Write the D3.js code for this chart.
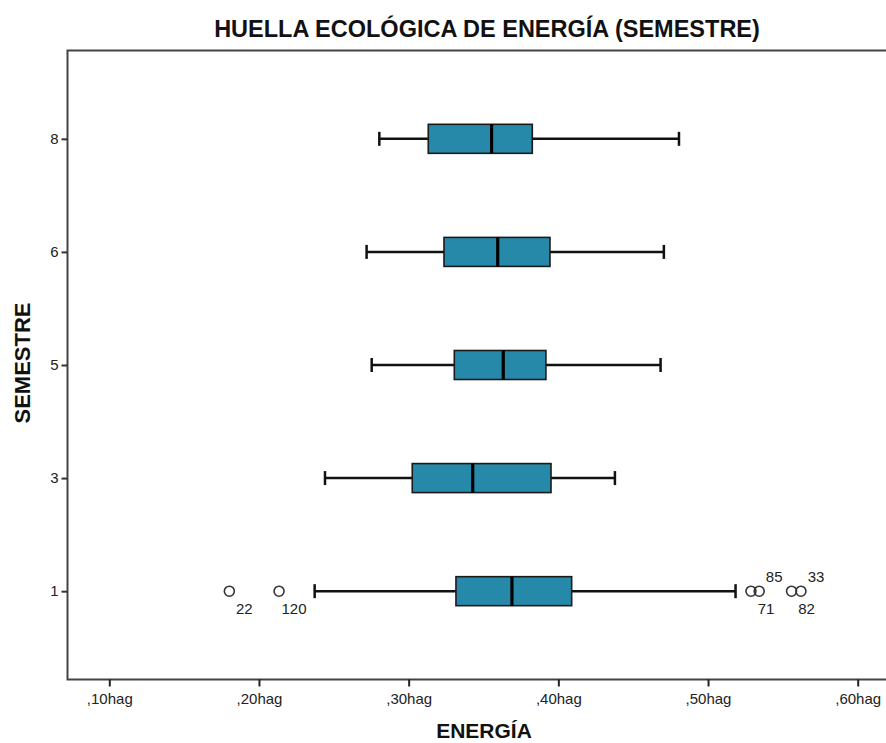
<!DOCTYPE html>
<html>
<head>
<meta charset="utf-8">
<script src="https://cdn.jsdelivr.net/npm/d3@7"></script>
<style>
  body { margin: 0; background: #fff; }
  svg { display: block; font-family: "Liberation Sans", Arial, sans-serif; }
</style>
</head>
<body>
<svg id="chart" width="886" height="743"></svg>
<script>
// ---- data ----
const semesters = ["8", "6", "5", "3", "1"];
const whiskerLow  = [0.2804, 0.2719, 0.2753, 0.2441, 0.2372];
const q1          = [0.3131, 0.3236, 0.3305, 0.3024, 0.3316];
const median      = [0.3554, 0.3595, 0.3632, 0.3428, 0.3690];
const q3          = [0.3826, 0.3944, 0.3917, 0.3951, 0.4089];
const whiskerHigh = [0.4806, 0.4705, 0.4683, 0.4378, 0.5184];
const outlierSemester = ["1", "1", "1", "1", "1", "1"];
const outlierValues   = [0.1802, 0.2134, 0.5287, 0.5342, 0.5558, 0.5621];
const outlierIds      = ["22", "120", "71", "85", "82", "33"];
const outlierLabelPos = ["below", "below", "below", "above", "below", "above"];
const xTicks = [0.10, 0.20, 0.30, 0.40, 0.50, 0.60];
const xTickLabels = [",10hag", ",20hag", ",30hag", ",40hag", ",50hag", ",60hag"];

const chartTitle = "HUELLA ECOLÓGICA DE ENERGÍA (SEMESTRE)";
const xTitle = "ENERGÍA";
const yTitle = "SEMESTRE";

(function () {
// ---- layout ----
const svg = d3.select("#chart");
const pLeft = 67.5, pTop = 50.5, pBottom = 679.5, pRight = 892;

const x = d3.scaleLinear().domain([0.10, 0.60]).range([109.3, 857.7]);
const y = d3.scalePoint().domain(semesters).range([pTop, pBottom]).padding(0.781);

const boxes = semesters.map((s, i) => ({
  s, lo: whiskerLow[i], q1: q1[i], med: median[i], q3: q3[i], hi: whiskerHigh[i]
}));
const outliers = outlierValues.map((v, i) => ({
  s: outlierSemester[i], v, id: outlierIds[i], pos: outlierLabelPos[i]
}));

// frame
svg.append("rect")
  .attr("x", pLeft).attr("y", pTop)
  .attr("width", pRight - pLeft).attr("height", pBottom - pTop)
  .attr("fill", "none").attr("stroke", "#444").attr("stroke-width", 2);

// title
svg.append("text")
  .attr("x", 487).attr("y", 37)
  .attr("text-anchor", "middle")
  .attr("font-size", 23.5).attr("font-weight", "bold").attr("fill", "#111")
  .text(chartTitle);

// x axis
const xAxis = d3.axisBottom(x).tickValues(xTicks)
  .tickFormat((d, i) => xTickLabels[i]).tickSize(7).tickPadding(7);
const gx = svg.append("g").attr("transform", `translate(0,${pBottom})`).call(xAxis);
gx.select(".domain").remove();
gx.selectAll(".tick line").attr("stroke", "#222").attr("stroke-width", 2);
gx.selectAll(".tick text").attr("font-size", 15).attr("fill", "#222")
  .attr("font-family", "Liberation Sans, Arial, sans-serif");

// y axis
const yAxis = d3.axisLeft(y).tickSize(6).tickPadding(3);
const gy = svg.append("g").attr("transform", `translate(${pLeft},0)`).call(yAxis);
gy.select(".domain").remove();
gy.selectAll(".tick line").attr("stroke", "#333").attr("stroke-width", 2);
gy.selectAll(".tick text").attr("font-size", 15).attr("fill", "#222")
  .attr("font-family", "Liberation Sans, Arial, sans-serif");

// axis titles
svg.append("text")
  .attr("x", 484).attr("y", 738)
  .attr("text-anchor", "middle")
  .attr("font-size", 21).attr("font-weight", "bold").attr("fill", "#111")
  .text(xTitle);
svg.append("text")
  .attr("transform", `translate(30,${(pTop + pBottom) / 2 - 2}) rotate(-90)`)
  .attr("text-anchor", "middle")
  .attr("font-size", 22).attr("font-weight", "bold").attr("fill", "#111")
  .text(yTitle);

// boxplots
const boxH = 29, capH = 14;
const g = svg.append("g");
const bg = g.selectAll("g.box").data(boxes).join("g").attr("class", "box");

bg.append("line")
  .attr("x1", d => x(d.lo)).attr("x2", d => x(d.q1))
  .attr("y1", d => y(d.s)).attr("y2", d => y(d.s))
  .attr("stroke", "#111").attr("stroke-width", 2.5);
bg.append("line")
  .attr("x1", d => x(d.q3)).attr("x2", d => x(d.hi))
  .attr("y1", d => y(d.s)).attr("y2", d => y(d.s))
  .attr("stroke", "#111").attr("stroke-width", 2.5);
bg.append("line")
  .attr("x1", d => x(d.lo)).attr("x2", d => x(d.lo))
  .attr("y1", d => y(d.s) - capH / 2).attr("y2", d => y(d.s) + capH / 2)
  .attr("stroke", "#111").attr("stroke-width", 2.5);
bg.append("line")
  .attr("x1", d => x(d.hi)).attr("x2", d => x(d.hi))
  .attr("y1", d => y(d.s) - capH / 2).attr("y2", d => y(d.s) + capH / 2)
  .attr("stroke", "#111").attr("stroke-width", 2.5);
bg.append("rect")
  .attr("x", d => x(d.q1)).attr("width", d => x(d.q3) - x(d.q1))
  .attr("y", d => y(d.s) - boxH / 2).attr("height", boxH)
  .attr("fill", "#2789a9").attr("stroke", "#1a1a1a").attr("stroke-width", 1.6);
bg.append("line")
  .attr("x1", d => x(d.med)).attr("x2", d => x(d.med))
  .attr("y1", d => y(d.s) - boxH / 2).attr("y2", d => y(d.s) + boxH / 2)
  .attr("stroke", "#000").attr("stroke-width", 3.2);

// outliers
const og = g.selectAll("g.out").data(outliers).join("g").attr("class", "out");
og.append("circle")
  .attr("cx", d => x(d.v)).attr("cy", d => y(d.s)).attr("r", 5)
  .attr("fill", "none").attr("stroke", "#333").attr("stroke-width", 1.6);
og.append("text")
  .attr("x", d => x(d.v) + 15)
  .attr("y", d => y(d.s) + (d.pos === "below" ? 23 : -9))
  .attr("text-anchor", "middle")
  .attr("font-size", 15).attr("fill", "#222")
  .text(d => d.id);
})();
</script>
</body>
</html>
